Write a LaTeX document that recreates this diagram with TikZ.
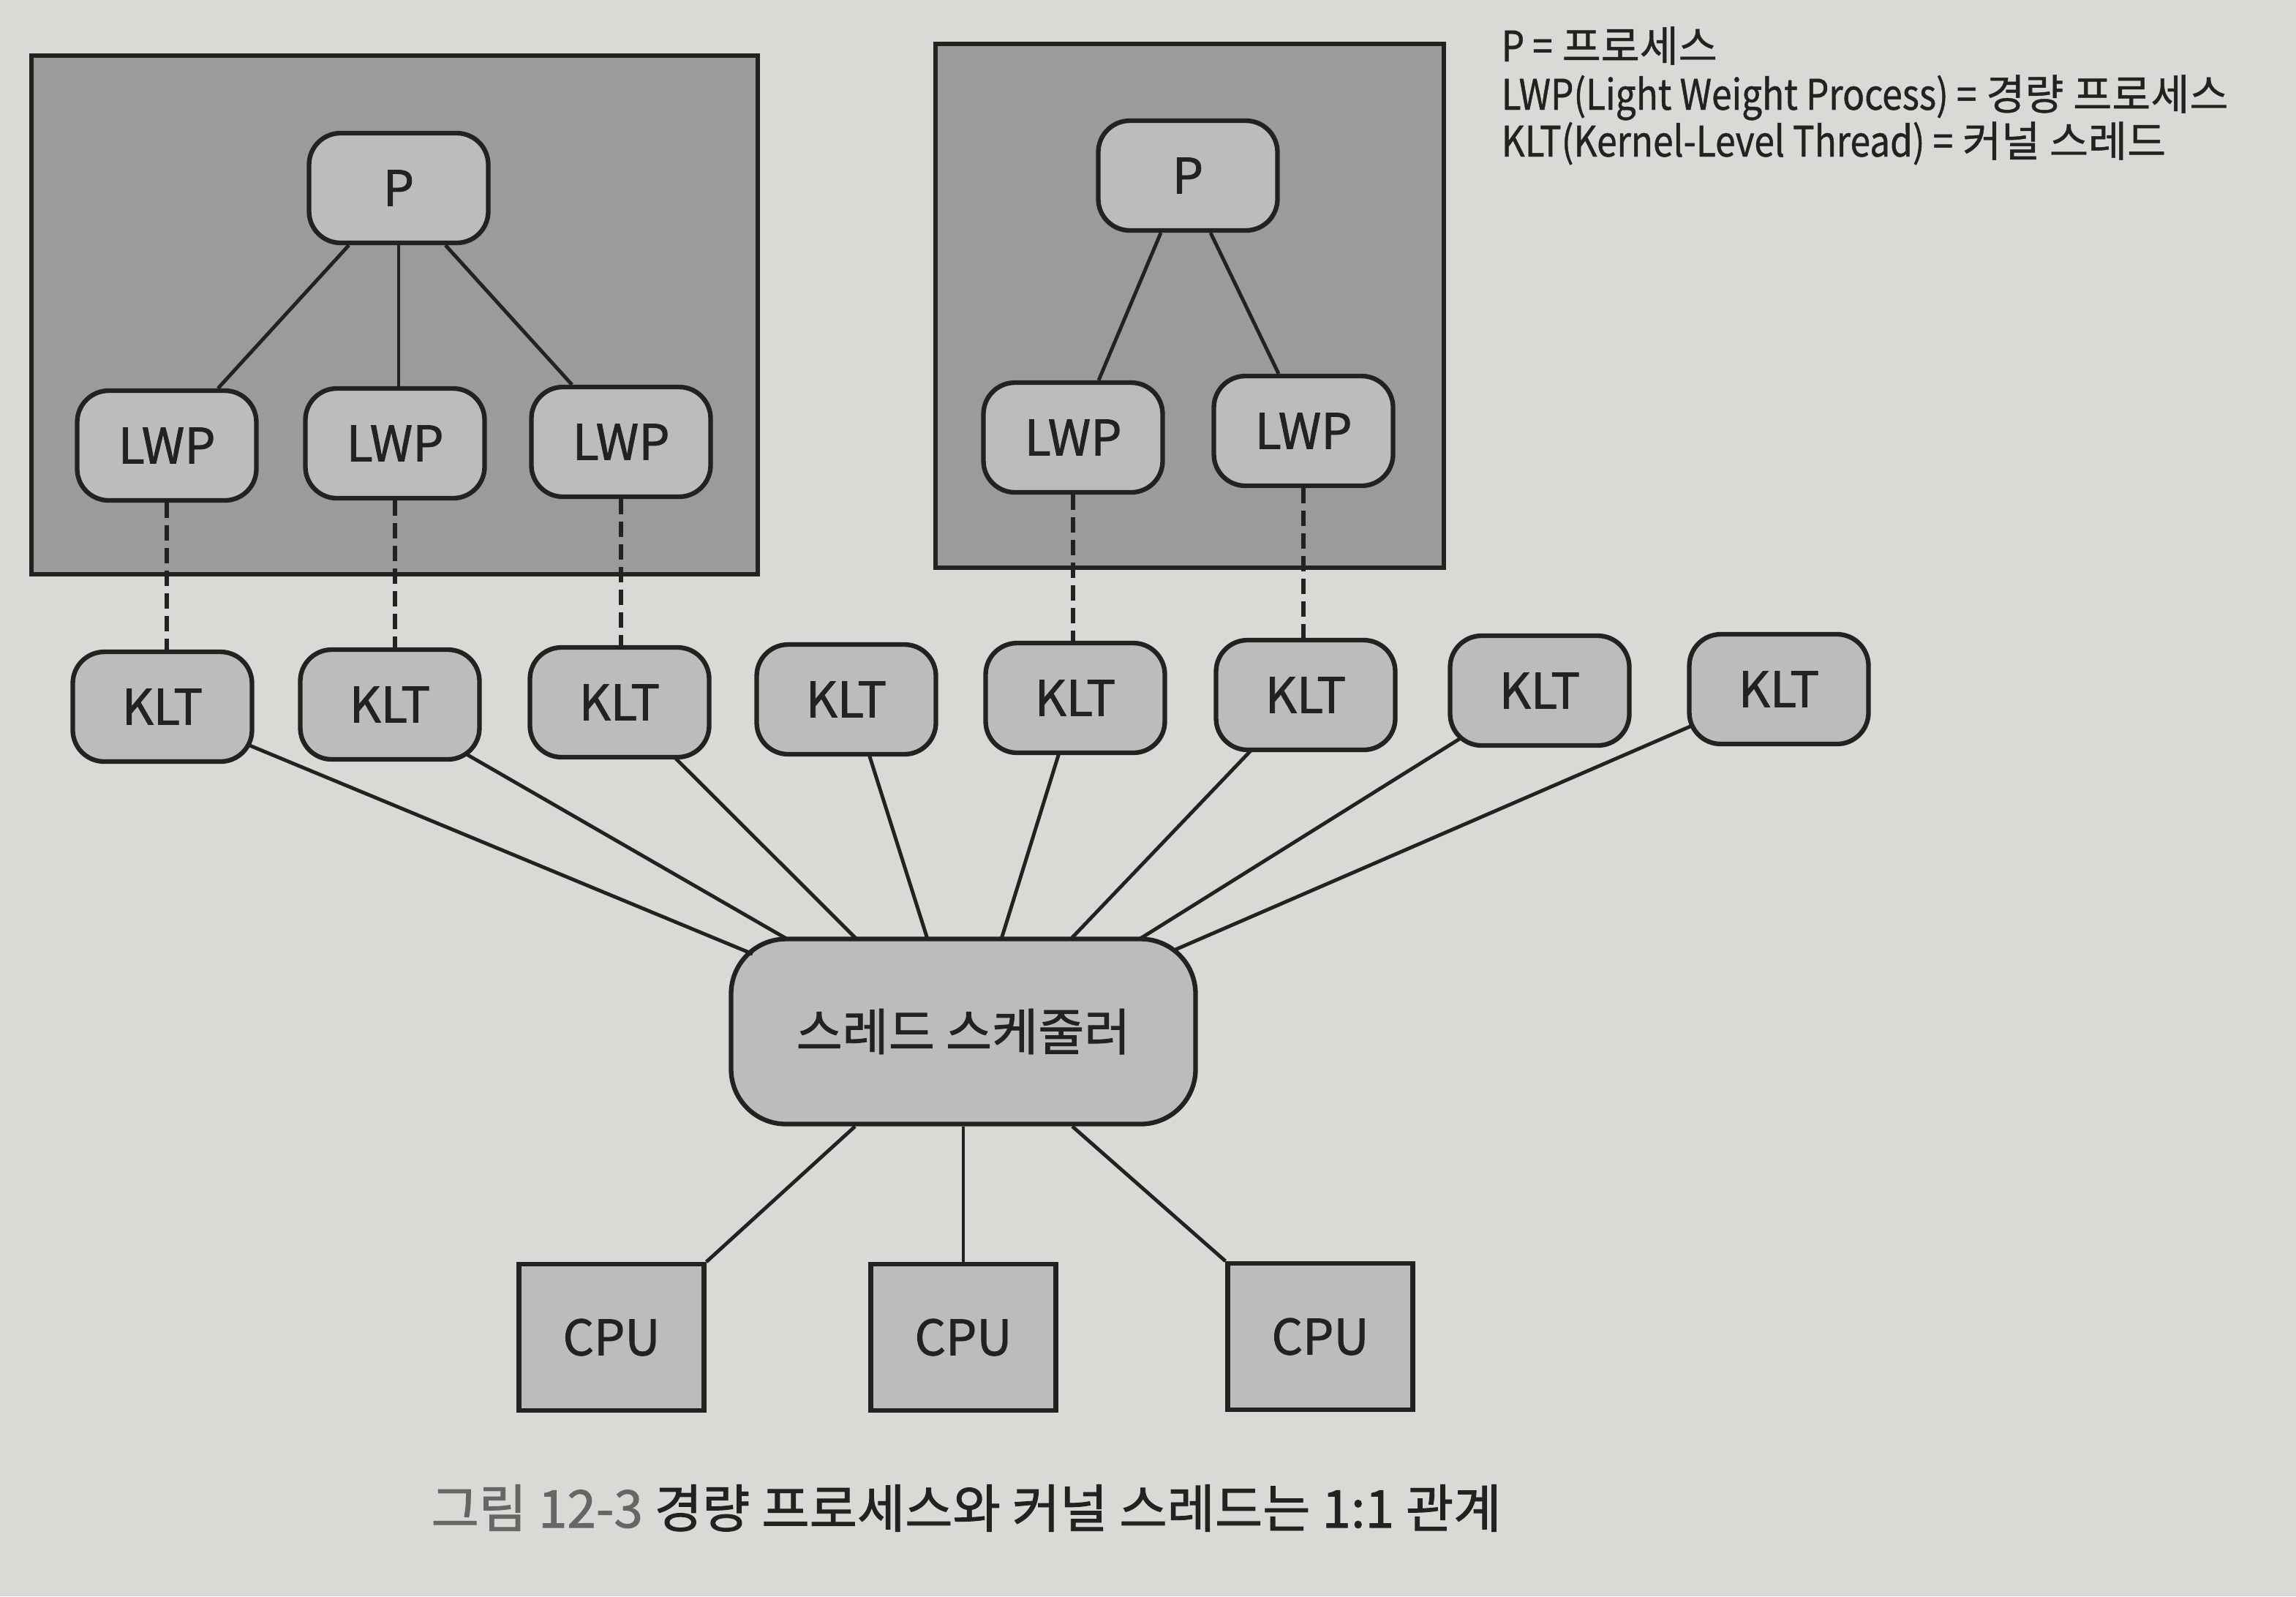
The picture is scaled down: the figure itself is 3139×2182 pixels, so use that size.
\documentclass[tikz,border=0pt]{standalone}
\usepackage{fontspec}
\setmainfont{Noto Sans CJK KR}
\newfontfamily\medfont{Noto Sans CJK KR}[FakeBold=1.3]
\newfontfamily\legfam{Noto Sans CJK KR}[FakeBold=0.8]
\newfontfamily\leglat{Noto Sans CJK KR}[FakeBold=0.8, FakeStretch=0.86]
\usetikzlibrary{calc}
\definecolor{page}{HTML}{D8DAD6}
\definecolor{boxfill}{HTML}{9A9C9A}
\definecolor{nodefill}{HTML}{BBBDBA}
\definecolor{ink}{HTML}{222222}
\newcommand\lblfont{\medfont\fontsize{19}{23}\selectfont}
\newcommand\legfont{\legfam\fontsize{16.4}{19}\selectfont}
\newcommand\capfont{\medfont\fontsize{20.2}{24}\selectfont}
\newcommand\lat[1]{{\leglat #1}}
\tikzset{
  rnode/.style={draw=ink, line width=1.8pt, rounded corners=4.3mm, fill=nodefill,
    minimum width=24.5mm, minimum height=15mm, inner sep=0pt, font=\lblfont, text=ink},
  schedbox/.style={draw=ink, line width=1.8pt, rounded corners=7.5mm, fill=nodefill,
    minimum width=63.5mm, minimum height=25.3mm, inner sep=0pt, font=\medfont\fontsize{19.5}{23}\selectfont, text=ink},
  cpubox/.style={draw=ink, line width=1.8pt, fill=nodefill,
    minimum width=25.3mm, minimum height=20mm, inner sep=0pt, font=\lblfont, text=ink},
  procbox/.style={draw=ink, line width=1.8pt, fill=boxfill, inner sep=0pt},
  conn/.style={draw=ink, line width=1.4pt},
  dconn/.style={draw=ink, line width=1.5pt, dash pattern=on 2.1mm off 1mm},
  legend/.style={anchor=base west, inner sep=0pt, font=\legfont, text=ink}
}
\begin{document}
\begin{tikzpicture}[x=0.1mm, y=-0.1mm]
\fill[page] (0,0) rectangle (3139,2182);
\useasboundingbox (0,0) rectangle (3139,2182);

% process boxes
\node[procbox, minimum width=99.3mm, minimum height=70.9mm] (lbox) at (539.5,430.5) {};
\node[procbox, minimum width=69.5mm, minimum height=71.6mm] (rbox) at (1626.5,418) {};

% processes
\node[rnode] (pl) at (545,257) {P};
\node[rnode] (pr) at (1624,240) {P};

% LWPs
\node[rnode] (l1) at (228,609) {LWP};
\node[rnode] (l2) at (540,606) {LWP};
\node[rnode] (l3) at (849,604) {LWP};
\node[rnode] (r1) at (1467,598) {LWP};
\node[rnode] (r2) at (1782,589) {LWP};

% KLTs
\node[rnode] (k1) at (222,966) {KLT};
\node[rnode] (k2) at (533,963) {KLT};
\node[rnode] (k3) at (847,960) {KLT};
\node[rnode] (k4) at (1157,956) {KLT};
\node[rnode] (k5) at (1470,954) {KLT};
\node[rnode] (k6) at (1785,950) {KLT};
\node[rnode] (k7) at (2105,944) {KLT};
\node[rnode] (k8) at (2432,942) {KLT};

% scheduler and CPUs
\node[schedbox] (sched) at (1317,1410) {스레드 스케줄러};
\node[cpubox] (c1) at (836,1828) {CPU};
\node[cpubox] (c2) at (1317,1828) {CPU};
\node[cpubox] (c3) at (1805,1827) {CPU};

% P -> LWP
\draw[conn] ($(pl.south)+(-68,0)$) -- ($(l1.north)+(70,0)$);
\draw[conn] (pl.south) -- (pl.south |- l2.north);
\draw[conn] ($(pl.south)+(64,0)$) -- ($(l3.north)+(-67,0)$);
\draw[conn] ($(pr.south)+(-37,0)$) -- ($(r1.north)+(35,0)$);
\draw[conn] ($(pr.south)+(31,0)$) -- ($(r2.north)+(-34,0)$);

% LWP - KLT dashed
\draw[dconn] (l1.south) -- (l1.south |- k1.north);
\draw[dconn] (l2.south) -- (l2.south |- k2.north);
\draw[dconn] (l3.south) -- (l3.south |- k3.north);
\draw[dconn] (r1.south) -- (r1.south |- k5.north);
\draw[dconn] (r2.south) -- (r2.south |- k6.north);

% KLT -> scheduler
\draw[conn] ($(k1)+(117,52)$) -- ($(sched)+(-288,-106)$);
\draw[conn] ($(k2)+(103,67)$) -- ($(sched)+(-241,-126.5)$);
\draw[conn] ($(k3)+(75,75)$) -- ($(sched)+(-146,-126.5)$);
\draw[conn] ($(k4)+(31,75)$) -- ($(sched)+(-49,-126.5)$);
\draw[conn] ($(k5)+(-22,75)$) -- ($(sched)+(52,-126.5)$);
\draw[conn] ($(k6)+(-74,75)$) -- ($(sched)+(147,-126.5)$);
\draw[conn] ($(k7)+(-108,65)$) -- ($(sched)+(241,-126.5)$);
\draw[conn] ($(k8)+(-119,50)$) -- ($(sched)+(290,-112)$);

% scheduler -> CPUs
\draw[conn] ($(sched.south)+(-148,0)$) -- (c1.north east);
\draw[conn] (sched.south) -- (sched.south |- c2.north);
\draw[conn] ($(sched.south)+(149,0)$) -- (c3.north west);

% legend
\node[legend] (leg1) at (2052,84) {\lat{P =} 프로세스};
\node[legend] (leg2) at (2052,150) {\lat{LWP(Light Weight Process) =} 경량 프로세스};
\node[legend] (leg3) at (2052,214) {\lat{KLT(Kernel-Level Thread) =} 커널 스레드};

% caption
\node[anchor=base, inner sep=0pt, font=\capfont, text=ink] (cap) at (1321,2088)
  {\textcolor{black!60}{그림 12-3} 경량 프로세스와 커널 스레드는 1:1 관계};
\end{tikzpicture}
\end{document}
